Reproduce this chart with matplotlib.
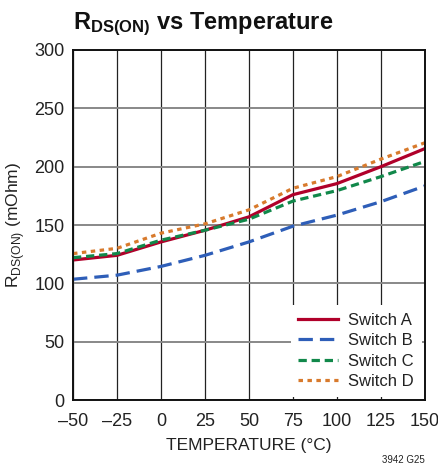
import matplotlib
matplotlib.use('Agg')
import matplotlib.pyplot as plt
from matplotlib import font_manager

names = {f.name for f in font_manager.fontManager.ttflist}
FONT = 'Liberation Sans Narrow' if 'Liberation Sans Narrow' in names else 'Liberation Sans'
plt.rcParams['font.family'] = FONT
plt.rcParams['mathtext.fontset'] = 'custom'
plt.rcParams['mathtext.rm'] = FONT
plt.rcParams['mathtext.bf'] = FONT + ':bold'

temp = [-50, -25, 0, 25, 50, 75, 100, 125, 150]
switch_a = [120, 124, 135.5, 145.5, 157, 176, 185.5, 200, 215.5]
switch_b = [103.5, 107, 114.5, 124, 135.5, 149, 158.5, 170, 183.5]
switch_c = [122, 125.5, 137, 145.5, 155, 170.5, 179.5, 191.5, 204.5]
switch_d = [125.5, 130, 143, 151, 163, 181.5, 191.5, 206.5, 220.5]

fig = plt.figure(figsize=(4.39, 4.69), dpi=100)
ax = fig.add_axes([0.1663, 0.1471, 0.8017, 0.7463])

ax.plot(temp, switch_a, color='#B0002A', lw=2.3, label='Switch A')
ax.plot(temp, switch_b, color='#2E5EB8', lw=2.3, dashes=(4.5, 2.2), label='Switch B')
ax.plot(temp, switch_c, color='#11884A', lw=2.3, dashes=(2.6, 1.5), label='Switch C')
ax.plot(temp, switch_d, color='#D87A2C', lw=2.3, dashes=(1.4, 1.4), label='Switch D')

ax.set_xlim(-50, 150)
ax.set_ylim(0, 300)
ax.set_xticks(range(-50, 151, 25))
ax.set_xticklabels(['\u201350', '\u201325', '0', '25', '50', '75', '100', '125', '150'])
ax.set_yticks(range(0, 301, 50))
ax.tick_params(length=0, labelsize=13, colors='#222222')
ax.tick_params(axis='x', pad=9)
ax.tick_params(axis='y', pad=6)
ax.xaxis.grid(True, color='#222222', lw=0.9)
ax.yaxis.grid(True, color='#888888', lw=1.4)
ax.set_axisbelow(True)
for s in ax.spines.values():
    s.set_linewidth(1.4)
    s.set_color('#111111')

ax.set_xlabel('TEMPERATURE (\u00b0C)', fontsize=12.5, color='#222222', labelpad=6)
ax.set_ylabel(r'R$_{\mathregular{DS(ON)}}$ (mOhm)', fontsize=12.5, color='#222222', labelpad=5)

leg = ax.legend(loc='lower right', fontsize=12, frameon=True, fancybox=False,
                borderaxespad=0.2, handlelength=2.4, handletextpad=0.6,
                labelspacing=0.33, borderpad=0.45)
leg.get_frame().set_edgecolor('none')
leg.get_frame().set_facecolor('white')
leg.get_frame().set_alpha(1)
for t in leg.get_texts():
    t.set_color('#222222')

fig.text(0.1663, 0.937, r'$\mathbf{R_{DS(ON)}}$ vs Temperature', fontsize=17,
         fontweight='bold', color='#111111', ha='left', va='baseline')
fig.text(0.968, 0.008, '3942 G25', fontsize=7, color='#222222', ha='right', va='bottom')

fig.savefig('out.png', dpi=100)
